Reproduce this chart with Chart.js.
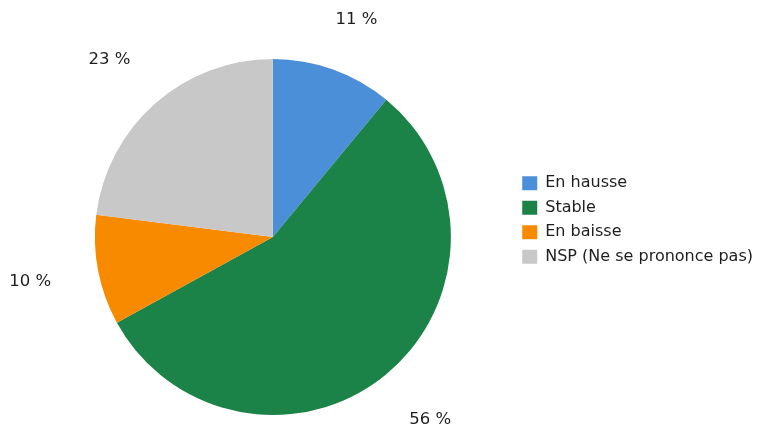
<!DOCTYPE html>
<html>
<head>
<meta charset="utf-8">
<script src="https://cdn.jsdelivr.net/npm/chart.js@4/dist/chart.umd.min.js"></script>
<style>
  html, body { margin: 0; padding: 0; background: #fff; }
  #wrap { width: 757px; height: 430px; }
</style>
</head>
<body>
<div id="wrap"><canvas id="c"></canvas></div>
<script>
// --- Données ---
const categories = ['En hausse', 'Stable', 'En baisse', 'NSP (Ne se prononce pas)'];
const valeurs = [11, 56, 10, 23];
const couleurs = ['#4a8fd7', '#1b8347', '#f88a00', '#c8c8c8'];

const fontFamily = 'Verdana, "DejaVu Sans", sans-serif';
const textColor = '#1e1e1e';

// étiquettes "xx %" à l'extérieur des parts
const labelsExterieurs = {
    id: 'labelsExterieurs',
    afterDatasetsDraw(chart) {
        const ctx = chart.ctx;
        const meta = chart.getDatasetMeta(0);
        ctx.save();
        ctx.font = '16.5px ' + fontFamily;
        ctx.fillStyle = textColor;
        ctx.textAlign = 'center';
        ctx.textBaseline = 'middle';
        meta.data.forEach((arc, i) => {
            const p = arc.getProps(['x', 'y', 'startAngle', 'endAngle', 'outerRadius'], true);
            const mid = (p.startAngle + p.endAngle) / 2;
            const txt = valeurs[i] + ' %';
            const hw = ctx.measureText(txt).width / 2;
            const hh = 11;
            const r = p.outerRadius + 48;
            const x = p.x + Math.cos(mid) * r + hw * Math.cos(mid);
            let y = p.y + Math.sin(mid) * r + hh * Math.sin(mid);
            y = Math.max(y, 20); // garder l'étiquette dans le cadre
            ctx.fillText(txt, x, y);
        });
        ctx.restore();
    }
};

// ajuste la position de la légende
const decalageLegende = {
    id: 'decalageLegende',
    afterLayout(chart) {
        const l = chart.legend;
        if (!l) return;
        l.top -= 17;
        l.bottom -= 17;
        l.left += 6;
    }
};

new Chart(document.getElementById('c').getContext('2d'), {
    type: 'pie',
    data: {
        labels: categories,
        datasets: [{
            data: valeurs,
            backgroundColor: couleurs,
            borderWidth: 0,
            hoverOffset: 0
        }]
    },
    options: {
        responsive: true,
        maintainAspectRatio: false,
        animation: false,
        radius: 178,
        layout: { padding: { left: 38, top: 44, bottom: 0, right: 0 } },
        plugins: {
            tooltip: { enabled: false },
            legend: {
                position: 'right',
                labels: {
                    boxWidth: 15,
                    boxHeight: 14,
                    padding: 8.5,
                    color: textColor,
                    font: { family: fontFamily, size: 16 }
                }
            }
        }
    },
    plugins: [labelsExterieurs, decalageLegende]
});
</script>
</body>
</html>
